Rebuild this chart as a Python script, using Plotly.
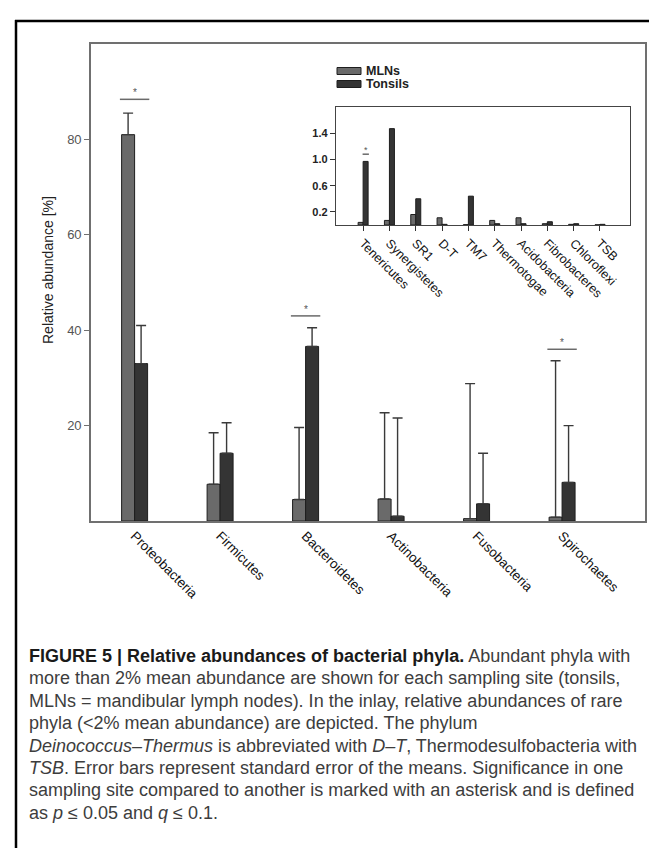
import plotly.graph_objects as go

W, H = 657, 848

# ---------------- data ----------------
main_phyla = ["Proteobacteria", "Firmicutes", "Bacteroidetes", "Actinobacteria", "Fusobacteria", "Spirochaetes"]
main_mlns = [81.0, 7.7, 4.5, 4.6, 0.5, 0.8]
main_mlns_err = [4.5, 10.8, 15.1, 18.1, 28.3, 32.8]
main_tonsils = [33.0, 14.2, 36.6, 1.0, 3.6, 8.1]
main_tonsils_err = [8.0, 6.4, 3.9, 20.6, 10.6, 11.9]
main_sig = ["Proteobacteria", "Bacteroidetes", "Spirochaetes"]
main_sig_y = [88.4, 43.0, 36.0]

rare_phyla = ["Tenericutes", "Synergistetes", "SR1", "D-T", "TM7", "Thermotogae",
              "Acidobacteria", "Fibrobacteres", "Chloroflexi", "TSB"]
rare_mlns = [0.04, 0.07, 0.16, 0.11, 0.005, 0.07, 0.11, 0.02, 0.01, 0.003]
rare_tonsils = [0.97, 1.47, 0.40, 0.01, 0.44, 0.02, 0.02, 0.05, 0.02, 0.01]
rare_sig = ["Tenericutes"]
rare_sig_y = [1.08]

series_names = ["MLNs", "Tonsils"]
series_colors = ["#6a6a6a", "#343434"]

main_ticks = [20, 40, 60, 80]
rare_ticks = [0.2, 0.6, 1.0, 1.4]

caption_lines = [
    "<b style='color:#1a1a1a'>FIGURE 5 | Relative abundances of bacterial phyla.</b> Abundant phyla with",
    "more than 2% mean abundance are shown for each sampling site (tonsils,",
    "MLNs = mandibular lymph nodes). In the inlay, relative abundances of rare",
    "phyla (&lt;2% mean abundance) are depicted. The phylum",
    "<i>Deinococcus–Thermus</i> is abbreviated with <i>D–T</i>, Thermodesulfobacteria with",
    "<i>TSB</i>. Error bars represent standard error of the means. Significance in one",
    "sampling site compared to another is marked with an asterisk and is defined",
    "as <i>p</i> ≤ 0.05 and <i>q</i> ≤ 0.1.",
]

# ---------------- helpers ----------------
def px(x):
    return x / W

def py(y):
    return 1 - y / H

FONT = "Liberation Sans, Arial, sans-serif"
AXC = "#707070"

fig = go.Figure()

# main bars
bw_main = 0.152
for name, vals, errs, col, off in [
    (series_names[0], main_mlns, main_mlns_err, series_colors[0], -bw_main),
    (series_names[1], main_tonsils, main_tonsils_err, series_colors[1], 0.0),
]:
    fig.add_trace(go.Bar(
        x=main_phyla, y=vals, name=name, width=bw_main, offset=off,
        marker=dict(color=col, line=dict(color="#1e1e1e", width=1)),
        error_y=dict(type="data", symmetric=False, array=errs, arrayminus=[0] * len(errs),
                     color="#3a3a3a", thickness=1.4, width=5),
        xaxis="x", yaxis="y", showlegend=False,
    ))

# inset bars
bw_rare = 0.19
for name, vals, col, off in [
    (series_names[0], rare_mlns, series_colors[0], -bw_rare),
    (series_names[1], rare_tonsils, series_colors[1], 0.0),
]:
    fig.add_trace(go.Bar(
        x=rare_phyla, y=vals, name=name, width=bw_rare, offset=off,
        marker=dict(color=col, line=dict(color="#1e1e1e", width=1)),
        xaxis="x2", yaxis="y2", showlegend=False,
    ))

shapes = []
annotations = []

# significance markers (main)
for cat, yv in zip(main_sig, main_sig_y):
    i = main_phyla.index(cat)
    shapes.append(dict(type="line", xref="x", yref="y", x0=i - bw_main - 0.02, x1=i + bw_main + 0.02,
                       y0=yv, y1=yv, line=dict(color="#6a6a6a", width=1.5)))
    annotations.append(dict(xref="x", yref="y", x=i, y=yv, text="*", showarrow=False,
                            yanchor="bottom", yshift=-1, font=dict(size=10, color="#555", family=FONT)))

# significance markers (inset)
for cat, yv in zip(rare_sig, rare_sig_y):
    i = rare_phyla.index(cat)
    shapes.append(dict(type="line", xref="x2", yref="y2", x0=i - 0.02, x1=i + 0.22,
                       y0=yv, y1=yv, line=dict(color="#6a6a6a", width=1.5)))
    annotations.append(dict(xref="x2", yref="y2", x=i + 0.1, y=yv, text="*", showarrow=False,
                            yanchor="bottom", yshift=-3, font=dict(size=9, color="#555", family=FONT)))

# outer page border (top + left)
shapes.append(dict(type="line", xref="paper", yref="paper", x0=px(7), x1=1.0, y0=py(13), y1=py(13),
                   line=dict(color="black", width=2.5)))
shapes.append(dict(type="line", xref="paper", yref="paper", x0=px(8), x1=px(8), y0=py(12), y1=0,
                   line=dict(color="black", width=2.5)))

# legend (manual)
for k, (name, col) in enumerate(zip(series_names, series_colors)):
    yc = 63 + k * 13
    shapes.append(dict(type="rect", xref="paper", yref="paper", x0=px(329), x1=px(353),
                       y0=py(yc + 3.5), y1=py(yc - 3.5), fillcolor=col,
                       line=dict(color="#1e1e1e", width=1)))
    annotations.append(dict(xref="paper", yref="paper", x=px(356), y=py(yc), text="<b>%s</b>" % name,
                            showarrow=False, xanchor="left", yanchor="middle",
                            font=dict(size=12.5, color="#222", family=FONT)))

# y-axis title
annotations.append(dict(xref="paper", yref="paper", x=px(40), y=py(262), text="Relative abundance [%]",
                        textangle=-90, showarrow=False, xanchor="center", yanchor="middle",
                        font=dict(size=14, color="#222", family=FONT)))

# caption
for k, line in enumerate(caption_lines):
    annotations.append(dict(xref="paper", yref="paper", x=px(19), y=py(648 + k * 22.4), text=line,
                            showarrow=False, xanchor="left", yanchor="middle",
                            font=dict(size=18, color="#3d3d3d", family=FONT)))

fig.update_layout(
    width=W, height=H,
    margin=dict(l=0, r=0, t=0, b=0),
    paper_bgcolor="white", plot_bgcolor="white",
    barmode="group",
    font=dict(family=FONT, color="#222"),
    xaxis=dict(domain=[px(83), px(637)], anchor="y", range=[-0.51, 5.97],
               showline=True, linecolor=AXC, linewidth=1.6, mirror=True,
               ticks="", tickangle=45, tickfont=dict(size=13.5, color="#111"),
               showgrid=False, zeroline=False, fixedrange=True),
    yaxis=dict(domain=[py(513), py(36)], anchor="x", range=[0, 100],
               showline=True, linecolor=AXC, linewidth=1.6, mirror=True,
               tickvals=main_ticks, ticks="outside", ticklen=5, tickcolor=AXC, tickwidth=1.4,
               tickfont=dict(size=13, color="#555"),
               showgrid=False, zeroline=False),
    xaxis2=dict(domain=[px(328), px(622)], anchor="y2", range=[-1.03, 10.14],
                showline=True, linecolor="#444", linewidth=1.4, mirror=True,
                ticks="outside", ticklen=5, tickcolor="#333", tickwidth=1.2,
                tickangle=45, tickfont=dict(size=12.5, color="#111"),
                showgrid=False, zeroline=False),
    yaxis2=dict(domain=[py(217), py(99)], anchor="x2", range=[0, 1.8],
                showline=True, linecolor="#444", linewidth=1.4, mirror=True,
                tickvals=rare_ticks, tickformat=".1f", ticks="outside", ticklen=5,
                tickcolor="#333", tickwidth=1.2,
                tickfont=dict(size=11, color="#222", weight="bold"),
                showgrid=False, zeroline=False),
    shapes=shapes,
    annotations=annotations,
)

fig.write_html("out.html")
